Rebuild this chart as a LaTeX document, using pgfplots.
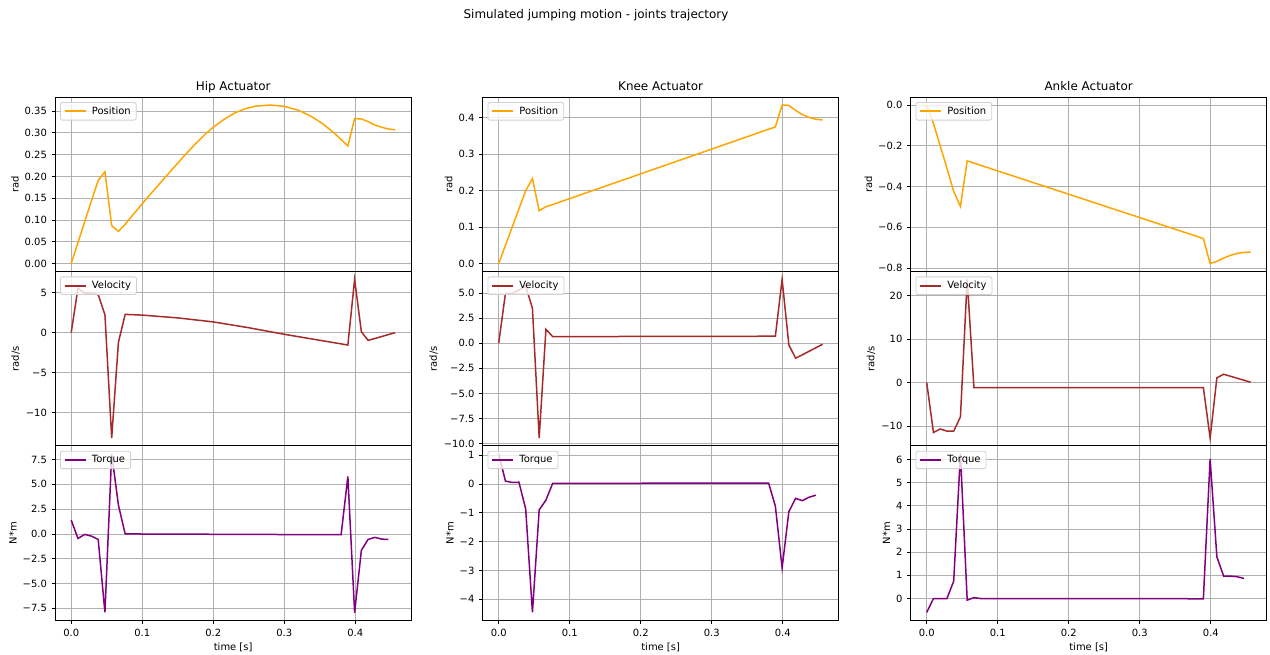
\documentclass[border=0pt]{standalone}
\usepackage{fontspec}
\setmainfont{DejaVu Sans}
\usepackage{pgfplots}
\pgfplotsset{compat=1.18}
\definecolor{mplorange}{HTML}{FFA500}
\definecolor{mplbrown}{HTML}{A52A2A}
\definecolor{mplpurple}{HTML}{800080}
\definecolor{gridgray}{HTML}{B0B0B0}
\definecolor{legendgray}{HTML}{D0D0D0}
\newcommand\tickfont{\fontsize{10}{12}\selectfont}
\newcommand\titlefont{\fontsize{12}{14}\selectfont}
\pgfplotsset{
  mpl/.style={
    scale only axis, width=356.3bp, height=174.4bp,
    xmin=-0.0228, xmax=0.4788,
    xtick={0,0.1,0.2,0.3,0.4},
    xtick pos=bottom, ytick pos=left,
    grid=major, major grid style={color=gridgray, line width=0.8bp},
    axis line style={line width=0.8bp, black},
    tick align=outside, major tick length=3.4bp,
    tick style={line width=0.8bp, black},
    yticklabel style={font=\tickfont, inner sep=0pt, xshift=-4.5bp},
    xticklabel style={font=\tickfont, inner sep=0pt, yshift=-5.5bp},
    ylabel style={font=\tickfont, inner sep=0pt, outer sep=6bp},
    xlabel style={font=\tickfont, inner sep=0pt, yshift=-5.5bp},
    title style={at={(0.5,1)}, anchor=base, yshift=0.3bp, font=\titlefont, inner sep=0pt},
    legend style={at={(0,1)}, anchor=north west, xshift=5bp, yshift=-5bp,
      draw=legendgray, line width=0.8bp, rounded corners=2bp, fill=white,
      fill opacity=0.8, text opacity=1,
      font=\tickfont, inner xsep=3.5bp, inner ysep=2.3bp,
      /tikz/every odd column/.append style={column sep=3bp}},
    legend cell align=left,
    legend image code/.code={\draw[##1, line width=2bp] (0bp,0bp) -- (21bp,0bp);},
  },
  upper/.style={xticklabels={}, xmajorticks=false},
  lower/.style={xticklabels={0.0,0.1,0.2,0.3,0.4}, xlabel={time [s]}},
  pos/.style={draw=mplorange, line width=1.5bp, draw opacity=1},
  vel/.style={draw=mplbrown, line width=1.5bp, draw opacity=1},
  trq/.style={draw=mplpurple, line width=1.5bp, draw opacity=1},
}
\begin{document}
\begin{tikzpicture}
\path[use as bounding box] (0,0) rectangle (1270bp,655bp);
\node[font=\titlefont, anchor=base, inner sep=0pt] at (596bp,636.7bp) {Simulated jumping motion - joints trajectory};

% ---------------- HIP ----------------
\begin{axis}[mpl, upper, at={(55bp,383.5bp)}, title={Hip Actuator}, ylabel={rad},
  ymin=-0.0182, ymax=0.3822,
  ytick={0,0.05,0.1,0.15,0.2,0.25,0.3,0.35},
  yticklabels={0.00,0.05,0.10,0.15,0.20,0.25,0.30,0.35}]
\addplot[pos] coordinates {
(0,0) (0.0095,0.048) (0.019,0.096) (0.0285,0.144) (0.038,0.191) (0.0475,0.211)
(0.057,0.087) (0.0665,0.074) (0.076,0.090) (0.0808,0.100) (0.1066,0.150)
(0.1333,0.200) (0.1606,0.250) (0.175,0.275) (0.1887,0.297) (0.2,0.313)
(0.215,0.331) (0.23,0.3455) (0.245,0.3555) (0.26,0.3615) (0.28,0.364)
(0.30,0.361) (0.32,0.352) (0.34,0.336) (0.355,0.320) (0.37,0.300)
(0.3895,0.270) (0.399,0.333) (0.4085,0.332) (0.418,0.326)
(0.4275,0.318) (0.437,0.313) (0.4465,0.309) (0.456,0.307)};
\addlegendentry{Position}
\end{axis}

\begin{axis}[mpl, upper, at={(55bp,209.1bp)}, ylabel={rad/s},
  ymin=-14.15, ymax=7.65,
  ytick={-10,-5,0,5}, yticklabels={−10,−5,0,5}]
\addplot[vel] coordinates {
(0,0) (0.0095,5.55) (0.019,4.95) (0.0285,4.95) (0.038,4.75) (0.0475,2.25)
(0.057,-13.16) (0.0665,-1.2) (0.076,2.29) (0.1,2.2) (0.15,1.85) (0.2,1.35)
(0.25,0.62) (0.3,-0.2) (0.35,-0.95) (0.3895,-1.54) (0.399,6.66) (0.4085,0.12)
(0.418,-0.96) (0.4275,-0.72) (0.437,-0.48) (0.4465,-0.24) (0.456,0.0)};
\addlegendentry{Velocity}
\end{axis}

\begin{axis}[mpl, lower, at={(55bp,34.7bp)}, ylabel={N*m},
  ymin=-8.71, ymax=8.88,
  ytick={-7.5,-5,-2.5,0,2.5,5,7.5}, yticklabels={−7.5,−5.0,−2.5,0.0,2.5,5.0,7.5}]
\addplot[trq] coordinates {
(0,1.40) (0.0095,-0.45) (0.019,-0.05) (0.0285,-0.22) (0.038,-0.56) (0.0475,-7.91)
(0.057,8.08) (0.0665,2.9) (0.076,0.0) (0.38,-0.08) (0.3895,5.8) (0.399,-7.95)
(0.4085,-1.65) (0.418,-0.55) (0.4275,-0.35) (0.437,-0.52) (0.4465,-0.56)};
\addlegendentry{Torque}
\end{axis}

% ---------------- KNEE ----------------
\begin{axis}[mpl, upper, at={(482.5bp,383.5bp)}, title={Knee Actuator}, ylabel={rad},
  ymin=-0.0218, ymax=0.4568,
  ytick={0,0.1,0.2,0.3,0.4}, yticklabels={0.0,0.1,0.2,0.3,0.4}]
\addplot[pos] coordinates {
(0,0) (0.0095,0.05) (0.019,0.10) (0.0285,0.15) (0.038,0.200) (0.0475,0.233)
(0.057,0.145) (0.0665,0.156) (0.076,0.162) (0.3895,0.375) (0.399,0.435)
(0.4085,0.434) (0.418,0.420) (0.4275,0.409) (0.437,0.401) (0.4465,0.396) (0.456,0.394)};
\addlegendentry{Position}
\end{axis}

\begin{axis}[mpl, upper, at={(482.5bp,209.1bp)}, ylabel={rad/s},
  ymin=-10.23, ymax=7.15,
  ytick={-10,-7.5,-5,-2.5,0,2.5,5}, yticklabels={−10.0,−7.5,−5.0,−2.5,0.0,2.5,5.0}]
\addplot[vel] coordinates {
(0,0) (0.0095,4.97) (0.019,4.97) (0.0285,5.3) (0.038,5.7) (0.0475,3.48)
(0.057,-9.44) (0.0665,1.39) (0.076,0.66) (0.3895,0.70) (0.399,6.36)
(0.4085,-0.17) (0.418,-1.49) (0.4275,-1.15) (0.437,-0.8) (0.4465,-0.45) (0.456,-0.1)};
\addlegendentry{Velocity}
\end{axis}

\begin{axis}[mpl, lower, at={(482.5bp,34.7bp)}, ylabel={N*m},
  ymin=-4.73, ymax=1.32,
  ytick={-4,-3,-2,-1,0,1}, yticklabels={−4,−3,−2,−1,0,1}]
\addplot[trq] coordinates {
(0,1.045) (0.0095,0.10) (0.019,0.05) (0.0285,0.06) (0.038,-0.87) (0.0475,-4.455)
(0.057,-0.90) (0.0665,-0.56) (0.076,0.02) (0.38,0.03) (0.3895,-0.77) (0.399,-2.91)
(0.4085,-0.96) (0.418,-0.50) (0.4275,-0.58) (0.437,-0.46) (0.4465,-0.39)};
\addlegendentry{Torque}
\end{axis}

% ---------------- ANKLE ----------------
\begin{axis}[mpl, upper, at={(910.5bp,383.5bp)}, title={Ankle Actuator}, ylabel={rad},
  ymin=-0.8169, ymax=0.0389,
  ytick={-0.8,-0.6,-0.4,-0.2,0}, yticklabels={−0.8,−0.6,−0.4,−0.2,0.0}]
\addplot[pos] coordinates {
(0,0) (0.0095,-0.09) (0.019,-0.20) (0.0285,-0.31) (0.038,-0.424) (0.0475,-0.498)
(0.057,-0.274) (0.3895,-0.655) (0.399,-0.778) (0.4085,-0.767) (0.418,-0.751)
(0.4275,-0.738) (0.437,-0.728) (0.4465,-0.723) (0.456,-0.722)};
\addlegendentry{Position}
\end{axis}

\begin{axis}[mpl, upper, at={(910.5bp,209.1bp)}, ylabel={rad/s},
  ymin=-14.6, ymax=25.6,
  ytick={-10,0,10,20}, yticklabels={−10,0,10,20}]
\addplot[vel] coordinates {
(0,0) (0.0095,-11.5) (0.019,-10.7) (0.0285,-11.2) (0.038,-11.2) (0.0475,-7.9)
(0.057,23.8) (0.0665,-1.15) (0.3895,-1.15) (0.399,-12.8) (0.4085,1.08)
(0.418,1.92) (0.4275,1.46) (0.437,1.0) (0.4465,0.54) (0.456,0.08)};
\addlegendentry{Velocity}
\end{axis}

\begin{axis}[mpl, lower, at={(910.5bp,34.7bp)}, ylabel={N*m},
  ymin=-0.94, ymax=6.59,
  ytick={0,1,2,3,4,5,6}, yticklabels={0,1,2,3,4,5,6}]
\addplot[trq] coordinates {
(0,-0.60) (0.0095,0.0) (0.019,0.0) (0.0285,0.0) (0.038,0.75) (0.0475,6.25)
(0.057,-0.07) (0.0665,0.04) (0.076,0.0) (0.38,-0.01) (0.3895,-0.01) (0.399,6.03)
(0.4085,1.80) (0.418,0.97) (0.4275,0.97) (0.437,0.94) (0.4465,0.87)};
\addlegendentry{Torque}
\end{axis}
\end{tikzpicture}
\end{document}
